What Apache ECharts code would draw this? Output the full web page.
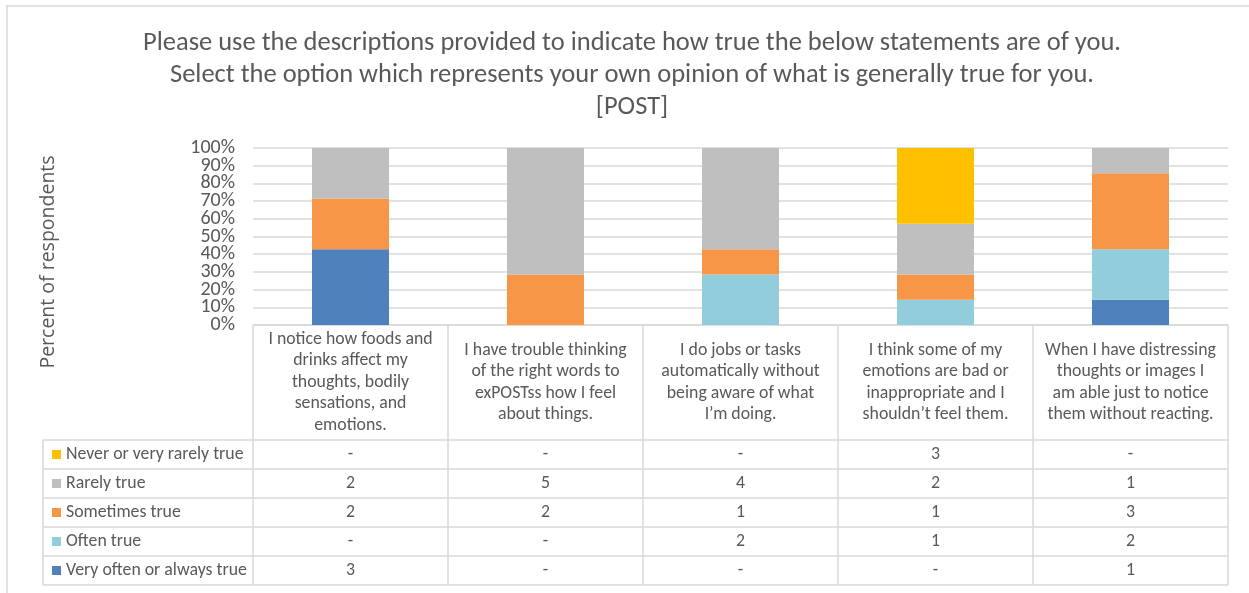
<!DOCTYPE html>
<html lang="en">
<head>
    <meta charset="UTF-8">
    <title>POST survey responses</title>
    <script src="https://cdn.jsdelivr.net/npm/echarts@6/dist/echarts.min.js"></script>
    <style>
        * { margin: 0; padding: 0; box-sizing: border-box; }
        html, body { width: 1249px; height: 593px; background: #fff; overflow: hidden; }
        #chart { width: 1249px; height: 593px; }
    </style>
</head>
<body>
    <div id="chart"></div>
    <script>
        // statements (x categories), with the line breaks used in the table header
        const statements = [
            'I notice how foods and\ndrinks affect my\nthoughts, bodily\nsensations, and\nemotions.',
            'I have trouble thinking\nof the right words to\nexPOSTss how I feel\nabout things.',
            'I do jobs or tasks\nautomatically without\nbeing aware of what\nI\u2019m doing.',
            'I think some of my\nemotions are bad or\ninappropriate and I\nshouldn\u2019t feel them.',
            'When I have distressing\nthoughts or images I\nam able just to notice\nthem without reacting.'
        ];

        // response counts per statement (stack order: bottom to top)
        const veryOften = [3, 0, 0, 0, 1];
        const often     = [0, 0, 2, 1, 2];
        const sometimes = [2, 2, 1, 1, 3];
        const rarely    = [2, 5, 4, 2, 1];
        const never     = [0, 0, 0, 3, 0];

        const seriesNames  = ['Very often or always true', 'Often true', 'Sometimes true', 'Rarely true', 'Never or very rarely true'];
        const seriesCounts = [veryOften, often, sometimes, rarely, never];
        const seriesColors = ['#4f81bd', '#92cddc', '#f79646', '#bfbfbf', '#ffc000'];

        const yTicks = [0, 10, 20, 30, 40, 50, 60, 70, 80, 90, 100];

        const textColor = '#595959';
        const lineColor = '#d9d9d9';
        const font = 'Calibri, Carlito, "Noto Sans", sans-serif';

        // layout of the plot + data table
        const plotLeft = 253, plotRight = 1228, plotTop = 148, plotBottom = 325;
        const headBottom = 440, rowH = 29, tableLeft = 43;

        const totals = statements.map((s, i) => seriesCounts.reduce((a, c) => a + c[i], 0));

        const chart = echarts.init(document.getElementById('chart'));

        const series = seriesNames.map((name, k) => ({
            name: name,
            type: 'bar',
            stack: 'all',
            barWidth: 77,
            itemStyle: { color: seriesColors[k] },
            data: seriesCounts[k].map((v, i) => v / totals[i] * 100)
        }));

        // table lines and text
        const graphic = [];
        const colW = (plotRight - plotLeft) / statements.length;
        const line = (x1, y1, x2, y2) => ({
            type: 'line', silent: true,
            shape: { x1: x1, y1: y1, x2: x2, y2: y2 },
            style: { stroke: lineColor, lineWidth: 1.5 }
        });

        // outer frame
        graphic.push(line(6, 6, 1249, 6));
        graphic.push(line(7, 6, 7, 593));

        // header row top line
        graphic.push(line(plotLeft, plotBottom, plotRight, plotBottom));
        // horizontal row lines
        for (let r = 0; r <= seriesNames.length; r++) {
            const y = headBottom + r * rowH;
            graphic.push(line(tableLeft, y, plotRight, y));
        }
        const tableBottom = headBottom + seriesNames.length * rowH;
        graphic.push(line(tableLeft, headBottom, tableLeft, tableBottom));
        for (let c = 0; c <= statements.length; c++) {
            const x = plotLeft + c * colW;
            graphic.push(line(x, plotBottom, x, tableBottom));
        }

        // header text
        statements.forEach((s, i) => {
            graphic.push({
                type: 'text', silent: true,
                x: plotLeft + (i + 0.5) * colW,
                y: (plotBottom + headBottom) / 2,
                style: {
                    text: s, fill: textColor, font: '17.8px ' + font,
                    align: 'center', verticalAlign: 'middle', lineHeight: 21.5
                }
            });
        });

        // rows: top row is the top stack segment
        for (let r = 0; r < seriesNames.length; r++) {
            const k = seriesNames.length - 1 - r;
            const yMid = headBottom + (r + 0.5) * rowH;
            graphic.push({
                type: 'rect', silent: true,
                shape: { x: 52, y: yMid - 4.5, width: 9, height: 9 },
                style: { fill: seriesColors[k] }
            });
            graphic.push({
                type: 'text', silent: true,
                x: 66, y: yMid,
                style: { text: seriesNames[k], fill: textColor, font: '17.8px ' + font, verticalAlign: 'middle' }
            });
            seriesCounts[k].forEach((v, i) => {
                graphic.push({
                    type: 'text', silent: true,
                    x: plotLeft + (i + 0.5) * colW, y: yMid,
                    style: { text: v === 0 ? '-' : String(v), fill: textColor, font: '17.8px ' + font, align: 'center', verticalAlign: 'middle' }
                });
            });
        }

        // y axis title
        graphic.push({
            type: 'text', silent: true,
            x: 48, y: 262, rotation: Math.PI / 2,
            style: { text: 'Percent of respondents', fill: textColor, font: '19.5px "Open Sans", sans-serif', align: 'center', verticalAlign: 'middle' }
        });

        chart.setOption({
            animation: false,
            title: {
                text: 'Please use the descriptions provided to indicate how true the below statements are of you.\nSelect the option which represents your own opinion of what is generally true for you.\n[POST]',
                left: 627, top: 22, textAlign: 'center',
                textStyle: { color: textColor, fontFamily: font, fontSize: 26.5, fontWeight: 'normal', lineHeight: 32 }
            },
            grid: { left: plotLeft, right: 1249 - plotRight, top: plotTop, bottom: 593 - plotBottom },
            xAxis: {
                type: 'category',
                data: statements,
                axisLine: { show: false },
                axisTick: { show: false },
                axisLabel: { show: false }
            },
            yAxis: {
                type: 'value',
                min: yTicks[0], max: yTicks[yTicks.length - 1], interval: 10,
                axisLabel: { show: false },
                splitLine: { lineStyle: { color: lineColor, width: 1.5 } },
                axisLine: { show: false },
                axisTick: { show: false }
            },
            series: series,
            graphic: graphic
        });

        // tick labels are packed tighter than the axis would allow, so place them from the y scale
        yTicks.forEach(v => {
            graphic.push({
                type: 'text', silent: true,
                x: 235, y: chart.convertToPixel({ yAxisIndex: 0 }, v),
                style: { text: v + '%', fill: textColor, font: '20px ' + font, align: 'right', verticalAlign: 'middle' }
            });
        });
        chart.setOption({ graphic: graphic });
    </script>
</body>
</html>
